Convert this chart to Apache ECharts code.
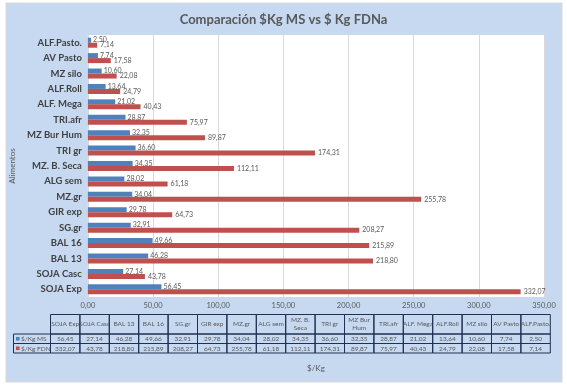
<!DOCTYPE html>
<html>
<head>
<meta charset="utf-8">
<script src="https://cdn.jsdelivr.net/npm/echarts@6/dist/echarts.min.js"></script>
<style>
html,body{margin:0;padding:0;background:#fff;}
#c{width:567px;height:387px;}
</style>
</head>
<body>
<div id="c"></div>
<script>
const categories = ['SOJA Exp','SOJA Casc','BAL 13','BAL 16','SG.gr','GIR exp','MZ.gr','ALG sem','MZ. B. Seca','TRI gr','MZ Bur Hum','TRI.afr','ALF. Mega','ALF.Roll','MZ silo','AV Pasto','ALF.Pasto.'];
const tableHeaders = ['SOJA Exp','SOJA Casc','BAL 13','BAL 16','SG.gr','GIR exp','MZ.gr','ALG sem','MZ. B.\nSeca','TRI gr','MZ Bur\nHum','TRI.afr','ALF. Mega','ALF.Roll','MZ silo','AV Pasto','ALF.Pasto.'];
const msValues = [56.45,27.14,46.28,49.66,32.91,29.78,34.04,28.02,34.35,36.60,32.35,28.87,21.02,13.64,10.60,7.74,2.50];
const fdnValues = [332.07,43.78,218.80,215.89,208.27,64.73,255.78,61.18,112.11,174.31,89.87,75.97,40.43,24.79,22.08,17.58,7.14];
const seriesNames = ['$/Kg MS','$/Kg FDN'];
const axisMin = 0, axisMax = 350, axisInterval = 50;

const BLUE = '#4f81bd', RED = '#c0504d', TXT = '#595959', BG = '#c6d9f1';
const FONT = 'Lato, "Open Sans", sans-serif';
const fmt = v => v.toFixed(2).replace('.', ',');

const chart = echarts.init(document.getElementById('c'), null, {renderer:'canvas'});

// data table graphics
const graphics = [];
graphics.push({type:'rect', z:-10, shape:{x:6,y:3,width:556,height:379}, style:{fill:BG, stroke:'#d9d9d9', lineWidth:1}});
const tLeft = 50.5, colW = 29.4, tTop = 314.5, headH = 19.5, rowH = 9.5, legL = 13.5;
const border = '#1f3050';
categories.forEach((c, i) => {
  const x = tLeft + i*colW;
  graphics.push({type:'rect', shape:{x:x, y:tTop, width:colW, height:headH}, style:{fill:'none', stroke:border, lineWidth:1}});
  graphics.push({type:'text', x:x+colW/2, y:tTop+headH/2, style:{text:tableHeaders[i], fill:TXT, font:'6.5px '+FONT, align:'center', verticalAlign:'middle', lineHeight:8}});
  [msValues, fdnValues].forEach((arr, r) => {
    const y = tTop + headH + r*rowH;
    graphics.push({type:'rect', shape:{x:x, y:y, width:colW, height:rowH}, style:{fill:'none', stroke:border, lineWidth:1}});
    graphics.push({type:'text', x:x+colW/2, y:y+rowH/2+0.5, style:{text:fmt(arr[i]), fill:TXT, font:'6.5px '+FONT, align:'center', verticalAlign:'middle'}});
  });
});
[BLUE, RED].forEach((col, r) => {
  const y = tTop + headH + r*rowH;
  graphics.push({type:'rect', shape:{x:legL, y:y, width:tLeft-legL, height:rowH}, style:{fill:'none', stroke:border, lineWidth:1}});
  graphics.push({type:'rect', shape:{x:legL+2.5, y:y+rowH/2-1.8, width:3.6, height:3.6}, style:{fill:col}});
  graphics.push({type:'text', x:legL+7.5, y:y+rowH/2+0.5, style:{text:seriesNames[r], fill:TXT, font:'6.5px '+FONT, align:'left', verticalAlign:'middle'}});
});

const option = {
  animation:false,
  backgroundColor:'#ffffff',
  textStyle:{fontFamily:FONT},
  title:{
    text:'Comparación $Kg MS vs $ Kg FDNa',
    left:'center', top:8,
    textStyle:{fontSize:13, fontWeight:'bold', color:TXT, fontFamily:FONT}
  },
  graphic:{elements:graphics},
  grid:{left:84, right:23, top:35, bottom:90, backgroundColor:'#ffffff', show:true, borderWidth:0},
  xAxis:{
    type:'value', min:axisMin, max:axisMax, interval:axisInterval,
    name:'$/Kg', nameLocation:'middle', nameGap:67,
    nameTextStyle:{color:TXT, fontSize:8, fontFamily:FONT},
    axisLine:{show:false}, axisTick:{show:false},
    axisLabel:{color:TXT, fontSize:7.5, margin:5, formatter:v => fmt(v)},
    splitLine:{lineStyle:{color:'#d9d9d9', width:1}}
  },
  yAxis:{
    type:'category', data:categories,
    name:'Alimentos', nameLocation:'middle', nameGap:64, nameRotate:90,
    nameTextStyle:{color:TXT, fontSize:8, fontFamily:FONT},
    axisLine:{show:true, lineStyle:{color:'#d9d9d9'}}, axisTick:{show:false},
    axisLabel:{color:'#404040', fontSize:9.5, fontWeight:'bold', margin:6}
  },
  series:[
    {name:seriesNames[0], type:'bar', data:msValues, barWidth:5, barGap:'0%',
     itemStyle:{color:BLUE},
     label:{show:true, position:'right', distance:2, color:TXT, fontSize:7, formatter:p => fmt(p.value)}},
    {name:seriesNames[1], type:'bar', data:fdnValues, barWidth:5, barGap:'0%',
     itemStyle:{color:RED},
     label:{show:true, position:'right', distance:3, color:TXT, fontSize:7, formatter:p => fmt(p.value)}}
  ]
};
chart.setOption(option);
</script>
</body>
</html>
